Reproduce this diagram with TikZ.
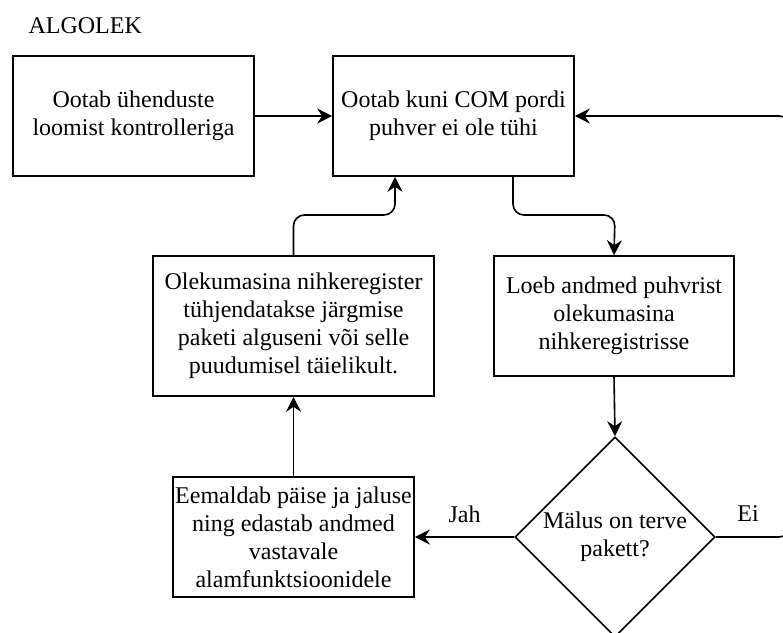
\documentclass[tikz,border=0pt]{standalone}
\usepackage{fontspec}
\setmainfont{Liberation Serif}
\usetikzlibrary{shapes.geometric,arrows.meta}
\begin{document}
\begin{tikzpicture}[x=1pt,y=-1pt,
  every node/.style={font=\fontsize{24}{28}\selectfont},
  flowbox/.style={draw, line width=1.6pt, rectangle, align=center, inner sep=0pt},
  decision/.style={draw, line width=1.6pt, diamond, aspect=1, align=center, inner sep=0pt,
    minimum width=200pt, minimum height=200pt},
  link/.style={line width=1.6pt, rounded corners=11pt,
    -{Stealth[length=15pt,width=15pt,inset=5pt]}}]
\useasboundingbox (0,0) rectangle (783,632);
\fill[white] (0,0) rectangle (783,632);
\clip (0,0) rectangle (783,632);

\node[anchor=base west] (title) at (25,33) {ALGOLEK};

\node[flowbox, minimum width=241pt, minimum height=120pt] (wait) at (133.5,116)
  {Ootab ühenduste\\loomist kontrolleriga};
\node[flowbox, minimum width=241pt, minimum height=120pt] (buffer) at (453.5,116)
  {Ootab kuni COM pordi\\puhver ei ole tühi};
\node[flowbox, minimum width=240pt, minimum height=120pt] (read) at (614,316)
  {Loeb andmed puhvrist\\olekumasina\\nihkeregistrisse};
\node[flowbox, minimum width=281pt, minimum height=140pt] (flush) at (293.5,326)
  {Olekumasina nihkeregister\\tühjendatakse järgmise\\paketi alguseni või selle\\puudumisel täielikult.};
\node[flowbox, minimum width=241pt, minimum height=120pt] (strip) at (293.5,537)
  {Eemaldab päise ja jaluse\\ning edastab andmed\\vastavale\\alamfunktsioonidele};
\node[decision] (check) at (615,537) {Mälus on terve\\pakett?};

\coordinate (outR) at (790,537);
\coordinate (inR) at (790,116);

% main flow
\draw[link] (wait.east) -- (buffer.west);
\draw[link] ([xshift=59.5pt]buffer.south) |- (615,215) -- (read.north);
\draw[link] (read.south) -- (check.north);
\draw[link] (check.west) -- (strip.east) node[pos=0.5, above=10pt] (yes) {Jah};
\draw[link] (strip.north) -- (flush.south);
\draw[link] (flush.north) |- (395,215) -- ([xshift=-58.5pt]buffer.south);

% "Ei" branch loops back along the right edge
\draw[link] (check.east) -- (outR) -- (inR) -- (buffer.east);
\node (no) at (748,514) {Ei};
\end{tikzpicture}
\end{document}
